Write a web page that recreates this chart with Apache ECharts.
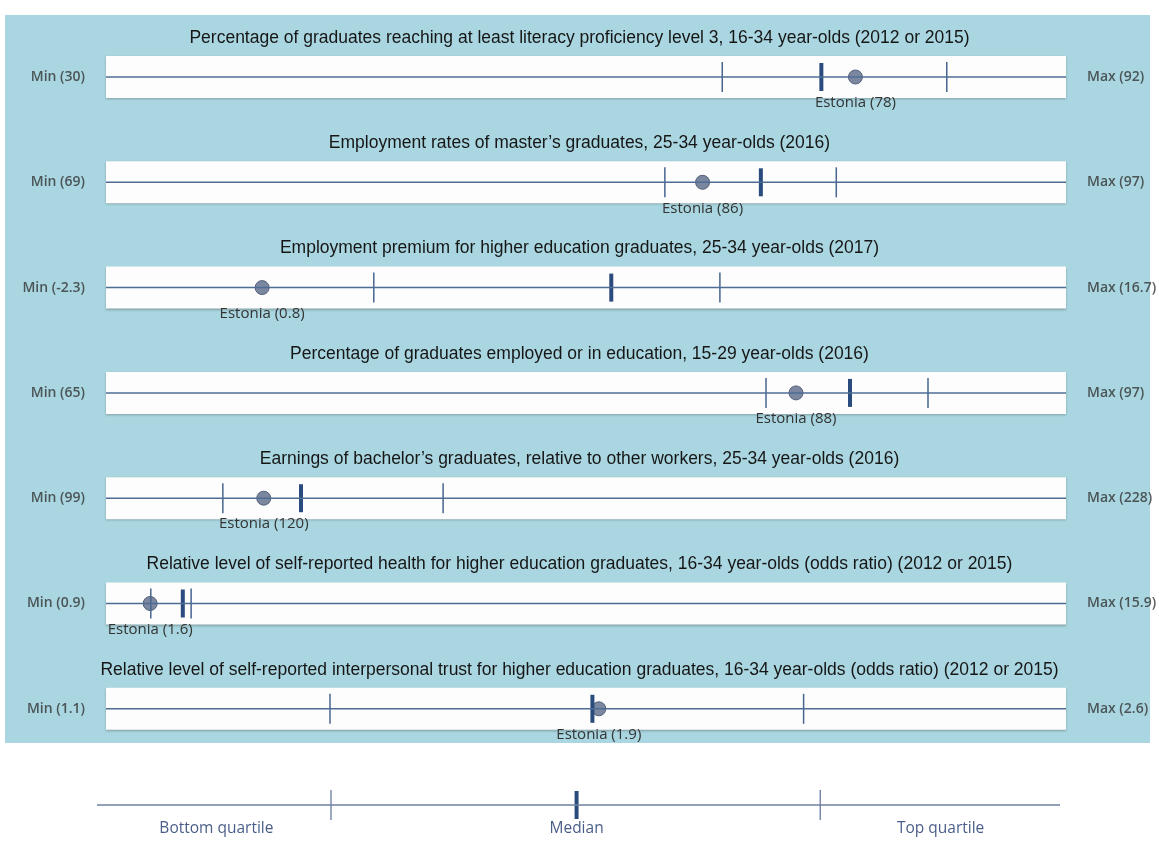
<!DOCTYPE html>
<html><head><meta charset="utf-8">
<script src="https://cdn.jsdelivr.net/npm/echarts@6/dist/echarts.min.js"></script>
<style>html,body{margin:0;padding:0;background:#fff}#c{width:1159px;height:842px}</style>
</head><body><div id="c"></div>
<script>
const titles = [
  "Percentage of graduates reaching at least literacy proficiency level 3, 16-34 year-olds (2012 or 2015)",
  "Employment rates of master\u2019s graduates, 25-34 year-olds (2016)",
  "Employment premium for higher education graduates, 25-34 year-olds (2017)",
  "Percentage of graduates employed or in education, 15-29 year-olds (2016)",
  "Earnings of bachelor\u2019s graduates, relative to other workers, 25-34 year-olds (2016)",
  "Relative level of self-reported health for higher education graduates, 16-34 year-olds (odds ratio) (2012 or 2015)",
  "Relative level of self-reported interpersonal trust for higher education graduates, 16-34 year-olds (odds ratio) (2012 or 2015)"
];
const mins = [30, 69, -2.3, 65, 99, 0.9, 1.1];
const maxs = [92, 97, 16.7, 97, 228, 15.9, 2.6];
const bottomQuartile = [69.8, 85.3, 3.0, 87.0, 114.7, 1.6, 1.45];
const medians = [76.2, 88.1, 7.7, 89.8, 125.2, 2.1, 1.86];
const topQuartile = [84.3, 90.3, 9.85, 92.4, 144.3, 2.23, 2.19];
const estonia = [78.4, 86.4, 0.79, 88.0, 120.2, 1.59, 1.87];
const estoniaLabels = ["78", "86", "0.8", "88", "120", "1.6", "1.9"];

// Legend (schematic) in 0..1 units
const legendTicks = [0.243, 0.498, 0.751];
const legendNames = ["Bottom quartile", "Median", "Top quartile"];
const legendLabelAt = [0.124, 0.498, 0.876];

const chart = echarts.init(document.getElementById('c'), null, {renderer: 'canvas'});
const grids = [], xAxes = [], yAxes = [], series = [], titleOpts = [];
const rowY = i => 77 + i * 105.3;
const LINE = '#4e6d95', TICK = '#47658f', MED = '#2a4b7d';
const lblFont = "'Open Sans', 'Noto Sans', sans-serif";

titles.forEach((t, i) => {
  const y = rowY(i);
  grids.push({left: 106, right: 93, top: y - 21, height: 42, show: true,
    backgroundColor: '#fdfdfd', borderWidth: 0,
    shadowColor: 'rgba(60,60,60,0.35)', shadowBlur: 2, shadowOffsetY: 1});
  xAxes.push({type: 'value', gridIndex: i, min: mins[i], max: maxs[i], show: false});
  yAxes.push({type: 'value', gridIndex: i, min: -1, max: 1, show: false});
  titleOpts.push({text: t, left: 'center', top: y - 48, padding: 0,
    textStyle: {fontFamily: "'Liberation Sans Narrow', 'Arial Narrow', 'Liberation Sans', sans-serif",
      fontSize: 17.5, fontWeight: 'normal', color: '#161616'}});
  const ax = {xAxisIndex: i, yAxisIndex: i, silent: true};
  series.push(Object.assign({type: 'line', data: [[mins[i], 0], [maxs[i], 0]], symbol: 'none',
    lineStyle: {color: LINE, width: 1.5}}, ax));
  // min / max labels
  series.push(Object.assign({type: 'scatter', symbolSize: 0,
    data: [{value: [mins[i], 0], label: {position: 'left', formatter: 'Min (' + mins[i] + ')'}},
           {value: [maxs[i], 0], label: {position: 'right', formatter: 'Max (' + maxs[i] + ')'}}],
    label: {show: true, distance: 21, fontFamily: lblFont, fontSize: 14, fontWeight: 600, color: '#333'}}, ax));
  // Estonia dot
  series.push(Object.assign({type: 'scatter', symbol: 'circle', symbolSize: 14,
    itemStyle: {color: '#7b869f', borderColor: '#55617c', borderWidth: 1, opacity: 1},
    data: [[estonia[i], 0]],
    label: {show: true, position: 'bottom', distance: 11, formatter: 'Estonia (' + estoniaLabels[i] + ')',
      fontFamily: lblFont, fontSize: 15, color: '#333'}}, ax));
  // quartile ticks
  series.push(Object.assign({type: 'scatter', symbol: 'rect', symbolSize: [1.5, 30],
    itemStyle: {color: TICK, opacity: 1}, data: [[bottomQuartile[i], 0], [topQuartile[i], 0]]}, ax));
  // median
  series.push(Object.assign({type: 'scatter', symbol: 'rect', symbolSize: [4, 28],
    itemStyle: {color: MED, opacity: 1}, data: [[medians[i], 0]]}, ax));
});

// legend grid
const L = titles.length;
grids.push({left: 97, right: 99, top: 785, height: 40, show: false});
xAxes.push({type: 'value', gridIndex: L, min: 0, max: 1, show: false});
yAxes.push({type: 'value', gridIndex: L, min: -1, max: 1, show: false});
const lax = {xAxisIndex: L, yAxisIndex: L, silent: true};
series.push(Object.assign({type: 'line', data: [[0, 0], [1, 0]], symbol: 'none',
  lineStyle: {color: '#6f80a2', width: 1.5}}, lax));
series.push(Object.assign({type: 'scatter', symbol: 'rect', symbolSize: [1.2, 30],
  itemStyle: {color: '#5a6f96', opacity: 1}, data: [[legendTicks[0], 0], [legendTicks[2], 0]]}, lax));
series.push(Object.assign({type: 'scatter', symbol: 'rect', symbolSize: [4, 28],
  itemStyle: {color: MED, opacity: 1}, data: [[legendTicks[1], 0]]}, lax));
series.push(Object.assign({type: 'scatter', symbolSize: 0,
  data: legendLabelAt.map((v, k) => ({value: [v, 0], label: {formatter: legendNames[k]}})),
  label: {show: true, position: 'bottom', distance: 16, fontFamily: lblFont, fontSize: 15.5, color: '#1c356a'}}, lax));

chart.setOption({
  animation: false,
  backgroundColor: '#ffffff',
  graphic: [{type: 'rect', z: -10, shape: {x: 5, y: 15, width: 1145, height: 728},
    style: {fill: '#a9d6e0'}, silent: true}],
  title: titleOpts,
  grid: grids, xAxis: xAxes, yAxis: yAxes, series: series
});
</script></body></html>
